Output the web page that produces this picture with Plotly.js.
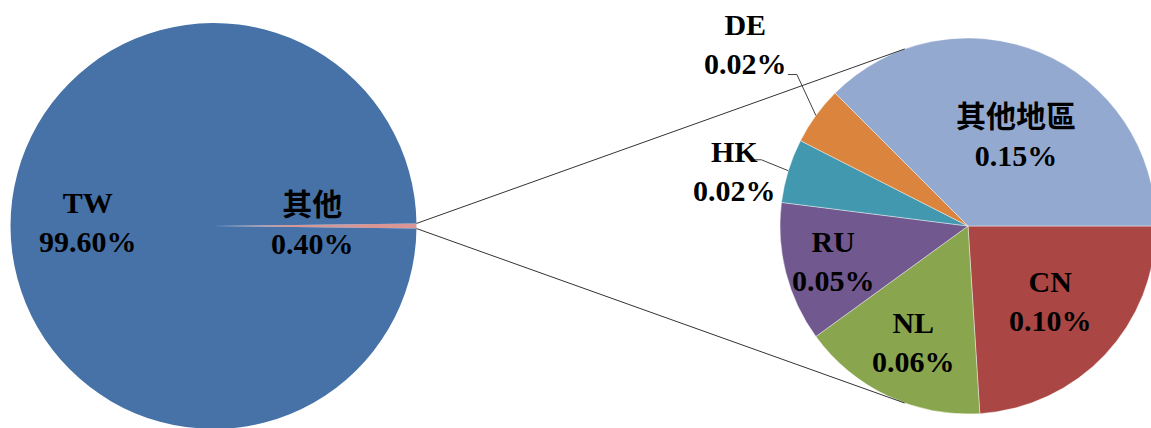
<!DOCTYPE html>
<html>
<head>
<meta charset="utf-8">
<script src="https://cdn.plot.ly/plotly-3.0.1.min.js"></script>
<style>
html,body{margin:0;padding:0;overflow:hidden;background:#fff}
#chart{width:1170px;height:452px}
</style>
</head>
<body>
<div id="chart"></div>
<script>
// ---- data ----
const mainLabels = ['其他', 'TW'];
const mainValues = [0.40, 99.60];
const subLabels = ['CN', 'NL', 'RU', 'HK', 'DE', '其他地區'];
const subValues = [0.096, 0.064, 0.048, 0.022, 0.020, 0.150];

// ---- styles ----
const mainColors = ['#D99694', '#4672A8'];
const subColors = ['#AA4643', '#89A54E', '#71588F', '#4198AF', '#DB843D', '#93A9CF'];

const W = 1170, H = 452;
const C1 = {x: 213.5, y: 226}, R1 = 203;   // primary pie (px)
const C2 = {x: 968, y: 226}, R2 = 188;     // secondary pie (px)

// label placement (radius fraction, optional angle offset, leader start offset)
const mainLabelPlace = [{r: 0.49, dAng: -1.1}, {r: 0.62, dAng: 1.8}];
const subLabelPlace = [
  {r: 0.59, dAng: -1}, {r: 0.68}, {r: 0.74},
  {r: 1.277, dAng: -3.8, lead: [18, -11]},
  {r: 1.529, dAng: 3.4, lead: [42, 31]},
  {r: 0.54, dAng: 5.5}
];

const font = {family: "'Liberation Serif', 'Noto Sans CJK TC', serif", size: 30, color: '#000', weight: 'bold'};
const px = x => x / W;
const py = y => 1 - y / H;
const rad = d => d * Math.PI / 180;
const fmt = v => v.toFixed(2) + '%';

// slice angles (screen degrees, clockwise from 3 o'clock)
function slices(values, start) {
  const tot = values.reduce((a, b) => a + b, 0);
  let a = start;
  return values.map(v => {
    const span = v / tot * 360;
    const s = {a0: a, a1: a + span, mid: a + span / 2};
    a += span;
    return s;
  });
}
const mainTot = mainValues.reduce((a, b) => a + b, 0);
const otherSpan = mainValues[0] / mainTot * 360;
const mainStart = -otherSpan / 2;
const mainS = slices(mainValues, mainStart);
const subS = slices(subValues, 0);

const traces = [
  {
    type: 'pie', labels: mainLabels, values: mainValues, sort: false,
    direction: 'clockwise', rotation: mainStart + 90,
    marker: {colors: mainColors, line: {width: 0}},
    textinfo: 'none', hoverinfo: 'none', showlegend: false,
    domain: {x: [px(C1.x - R1), px(C1.x + R1)], y: [0, 1]}
  },
  {
    type: 'pie', labels: subLabels, values: subValues, sort: false,
    direction: 'clockwise', rotation: 90,
    marker: {colors: subColors, line: {width: 0.6, color: 'rgba(255,255,255,0.7)'}},
    textinfo: 'none', hoverinfo: 'none', showlegend: false,
    domain: {x: [px(C2.x - R2), px(C2.x + R2)], y: [0, 1]}
  }
];

const annotations = [];
const shapes = [];

mainLabels.forEach((lab, i) => {
  const p = mainLabelPlace[i];
  const a = rad(mainS[i].mid + (p.dAng || 0));
  const r = R1 * p.r;
  annotations.push({
    xref: 'paper', yref: 'paper', x: px(C1.x + r * Math.cos(a)), y: py(C1.y + r * Math.sin(a)),
    xanchor: 'center', yanchor: 'middle', showarrow: false, font: font,
    text: lab + '<br>' + fmt(mainValues[i])
  });
});

subLabels.forEach((lab, i) => {
  const p = subLabelPlace[i];
  const a = rad(subS[i].mid + (p.dAng || 0));
  const r = R2 * p.r;
  const cx = C2.x + r * Math.cos(a), cy = C2.y + r * Math.sin(a);
  annotations.push({
    xref: 'paper', yref: 'paper', x: px(cx), y: py(cy),
    xanchor: 'center', yanchor: 'middle', showarrow: false, font: font,
    text: lab + '<br>' + fmt(subValues[i])
  });
  if (p.lead) {
    const sx = cx + p.lead[0], sy = cy + p.lead[1];
    const ex = sx + 9, ey = sy;
    const m = rad(subS[i].mid);
    const tx = C2.x + R2 * Math.cos(m), ty = C2.y + R2 * Math.sin(m);
    shapes.push({
      type: 'path', xref: 'paper', yref: 'paper',
      path: `M ${px(sx)} ${py(sy)} L ${px(ex)} ${py(ey)} L ${px(tx)} ${py(ty)}`,
      line: {color: '#404040', width: 1}
    });
  }
});

// connector lines: from the edges of the "其他" slice, tangent to the secondary pie
[mainS[0].a0, mainS[0].a1].forEach((ang, k) => {
  const a = rad(ang);
  const P = {x: C1.x + R1 * Math.cos(a), y: C1.y + R1 * Math.sin(a)};
  const dx = P.x - C2.x, dy = P.y - C2.y;
  const d = Math.hypot(dx, dy);
  const phi = Math.atan2(dy, dx);
  const t = Math.acos(R2 / d);
  const th = k === 0 ? phi + t : phi - t;
  const T = {x: C2.x + R2 * Math.cos(th), y: C2.y + R2 * Math.sin(th)};
  shapes.push({
    type: 'line', xref: 'paper', yref: 'paper',
    x0: px(P.x), y0: py(P.y), x1: px(T.x), y1: py(T.y),
    line: {color: '#333', width: 1}
  });
});

const layout = {
  width: W, height: H,
  margin: {l: 0, r: 0, t: 0, b: 0},
  paper_bgcolor: '#fff', plot_bgcolor: '#fff',
  showlegend: false,
  annotations: annotations,
  shapes: shapes
};

Plotly.newPlot('chart', traces, layout, {displayModeBar: false, staticPlot: true});
</script>
</body>
</html>
